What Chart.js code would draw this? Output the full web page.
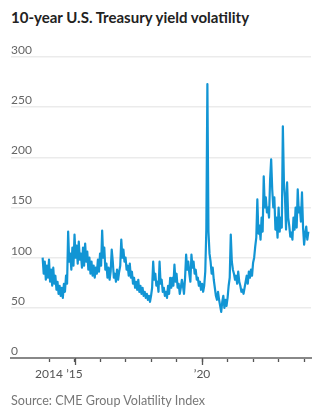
<!DOCTYPE html>
<html>
<head>
<meta charset="utf-8">
<script src="https://cdn.jsdelivr.net/npm/chart.js@4.4.1/dist/chart.umd.min.js"></script>
<style>
  html, body { margin: 0; padding: 0; background: #fff; }
  #wrap { position: relative; width: 329px; height: 415px; overflow: hidden; }
  #chart { position: absolute; left: 0; top: 0; }
  .title { position: absolute; left: 11px; top: 8px; font: bold 15px Lato, sans-serif; color: #222; white-space: nowrap; }
  .source { position: absolute; left: 11px; top: 393px; font: 12.6px Lato, sans-serif; color: #777; white-space: nowrap; }
</style>
</head>
<body>
<div id="wrap">
  <div class="title">10-year U.S. Treasury yield volatility</div>
  <canvas id="chart" width="329" height="415"></canvas>
  <div class="source">Source: CME Group Volatility Index</div>
</div>
<script>
// semi-monthly readings, first one in October 2013
const startYear = 2013.75;
const perYear = 24;

const vol2013 = [100, 84, 96, 78, 92, 80];
const vol2014 = [98, 76, 88, 72, 90, 74, 82, 68, 76, 64, 72, 62, 70, 60, 74, 66, 82, 74, 126, 96, 104, 88, 110, 92];
const vol2015 = [123, 100, 112, 94, 116, 98, 104, 90, 110, 92, 114, 96, 106, 88, 100, 84, 96, 82, 92, 80, 90, 84, 98, 86];
const vol2016 = [104, 92, 127, 100, 110, 88, 94, 80, 90, 78, 86, 108, 96, 80, 84, 76, 88, 78, 86, 92, 118, 100, 108, 96];
const vol2017 = [100, 88, 92, 82, 94, 80, 86, 74, 80, 70, 76, 68, 78, 66, 72, 64, 70, 62, 66, 60, 64, 58, 62, 56];
const vol2018 = [62, 70, 96, 78, 84, 72, 76, 66, 96, 74, 78, 66, 70, 62, 66, 60, 72, 64, 80, 70, 80, 72, 93, 76];
const vol2019 = [84, 70, 74, 64, 70, 78, 72, 64, 80, 103, 88, 96, 84, 76, 103, 90, 96, 84, 88, 78, 80, 72, 76, 68];
const vol2020 = [74, 66, 72, 86, 128, 273, 126, 104, 96, 84, 90, 78, 70, 62, 58, 66, 58, 52, 46, 56, 62, 50, 58, 52];
const vol2021 = [60, 72, 80, 123, 96, 88, 84, 78, 82, 74, 86, 76, 72, 66, 68, 64, 70, 76, 82, 74, 86, 80, 88, 82];
const vol2022 = [95, 100, 111, 120, 158, 124, 132, 118, 140, 126, 181, 150, 160, 145, 150, 140, 178, 198, 168, 150, 160, 128, 140, 120];
const vol2023 = [150, 126, 140, 130, 231, 175, 160, 128, 175, 140, 132, 121, 125, 118, 140, 128, 150, 130, 168, 145, 150, 136, 165, 130];
const vol2024 = [113, 124, 131, 118, 126];

const volatility = [].concat(vol2013, vol2014, vol2015, vol2016, vol2017, vol2018,
  vol2019, vol2020, vol2021, vol2022, vol2023, vol2024);

const xTickYears = [2014, 2015, 2016, 2017, 2018, 2019, 2020, 2021, 2022, 2023, 2024];
const xTickLabels = ['2014', '\u201915', '', '', '', '', '\u201920', '', '', '', ''];
const longTickYears = [2015, 2020];
const yTickValues = [0, 50, 100, 150, 200, 250, 300];

const points = volatility.map((v, i) => ({ x: startYear + i / perYear, y: v }));

const labelFont = { family: 'Lato, sans-serif', size: 12 };

// longer marks under the labelled years
const longTicks = {
  id: 'longTicks',
  afterDraw(chart) {
    const { ctx, scales: { x }, chartArea } = chart;
    ctx.save();
    ctx.strokeStyle = '#555';
    ctx.lineWidth = 1.3;
    longTickYears.forEach(yr => {
      const px = Math.round(x.getPixelForValue(yr)) + 0.5;
      ctx.beginPath();
      ctx.moveTo(px, chartArea.bottom);
      ctx.lineTo(px, chartArea.bottom + 7);
      ctx.stroke();
    });
    ctx.restore();
  }
};

new Chart(document.getElementById('chart').getContext('2d'), {
  type: 'line',
  data: {
    datasets: [{
      data: points,
      borderColor: '#1295d4',
      borderWidth: 2.2,
      borderJoinStyle: 'round',
      pointRadius: 0,
      tension: 0
    }]
  },
  options: {
    responsive: false,
    animation: false,
    layout: { padding: { left: 11, right: 18, top: 57, bottom: 27 } },
    plugins: { legend: { display: false }, tooltip: { enabled: false } },
    scales: {
      x: {
        type: 'linear',
        min: 2012.51,
        max: 2024.27,
        afterBuildTicks: s => { s.ticks = xTickYears.map(v => ({ value: v })); },
        afterFit: s => { s.height = 30; },
        border: { color: '#888', width: 2 },
        grid: { drawOnChartArea: false, tickLength: 4, tickColor: '#555', tickWidth: 1.3 },
        ticks: {
          autoSkip: false,
          maxRotation: 0,
          padding: 5,
          color: '#555',
          font: labelFont,
          callback: (v, i) => xTickLabels[i]
        }
      },
      y: {
        min: 0,
        max: 300,
        afterBuildTicks: s => { s.ticks = yTickValues.map(v => ({ value: v })); },
        afterFit: s => { s.width = 0; },
        border: { display: false },
        grid: {
          drawTicks: false,
          lineWidth: 1.5,
          color: c => (c.tick && c.tick.value === 0) ? 'rgba(0,0,0,0)' : '#ebebeb'
        },
        ticks: {
          mirror: true,
          padding: 0,
          labelOffset: -7,
          color: '#666',
          font: labelFont
        }
      }
    }
  },
  plugins: [longTicks]
});
</script>
</body>
</html>
